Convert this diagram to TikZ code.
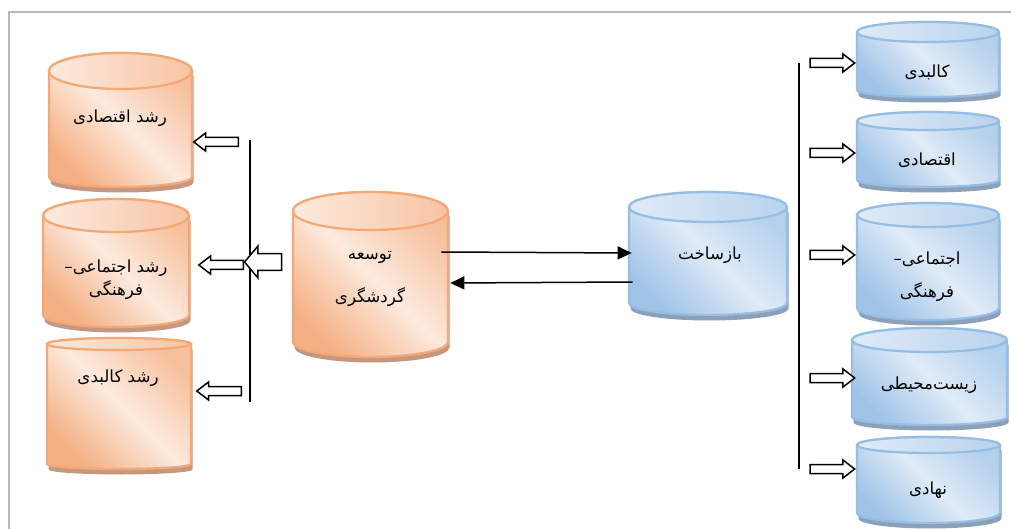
\documentclass[tikz,border=0pt]{standalone}
\usepackage{fontspec}
\usetikzlibrary{shapes.arrows, shadows, arrows.meta, fit}
\newfontfamily\arabicfont[Script=Arabic]{DejaVu Sans}
\TeXXeTstate=1
\newcommand\fa[1]{\beginR#1\endR}
\definecolor{orgedge}{RGB}{244,168,118}
\definecolor{orgdark}{RGB}{244,176,132}
\definecolor{orglight}{RGB}{253,234,222}
\definecolor{orgshade}{RGB}{196,152,128}
\definecolor{bluedge}{RGB}{150,190,228}
\definecolor{bludark}{RGB}{160,196,232}
\definecolor{blulight}{RGB}{224,235,247}
\definecolor{blushade}{RGB}{140,160,184}
\definecolor{framegray}{RGB}{184,184,188}

\begin{document}
\begin{tikzpicture}[x=0.2mm, y=-0.2mm, >={Triangle[length=2.8mm,width=2.6mm]},
    orangebody/.style={draw=orgedge, line width=0.45mm, top color=orgdark!80, bottom color=orgdark,
      middle color=orglight, shading angle=-45,
      drop shadow={shadow xshift=0.3mm, shadow yshift=-1.1mm, fill=orgshade, opacity=1}},
    orangetop/.style={draw=orgedge, line width=0.45mm, left color=orglight, right color=orgdark!75},
    bluebody/.style={draw=bluedge, line width=0.45mm, top color=bludark!80, bottom color=bludark,
      middle color=blulight, shading angle=-45,
      drop shadow={shadow xshift=0.3mm, shadow yshift=-1.1mm, fill=blushade, opacity=1}},
    bluetop/.style={draw=bluedge, line width=0.45mm, left color=blulight, right color=bludark!75},
    lbl/.style={font=\arabicfont\fontsize{9.5}{13}\selectfont, align=center, inner sep=1pt},
    hollow/.style={single arrow, draw, line width=0.3mm, fill=white, inner xsep=0pt, inner ysep=0.75mm,
      single arrow head extend=0.9mm, single arrow tip angle=75, minimum height=8.9mm}]
  \useasboundingbox (0,0) rectangle (1011,529);
  % frame
  \draw[framegray, line width=0.5mm] (1011,12) -- (9,12) -- (9,529);
  % cylinders: name/left/right/top centre/bottom centre/top radius/bottom radius/look
  \foreach \nm/\xa/\xb/\ya/\yb/\ra/\rb/\c in {g1/49/192/71/177/18/10/orange, g2/43/189/215.5/315/16.5/12/orange,
      g3/47/191/344/464/6/5/orange, tour/293/448/211/342/19/15/orange, base/629/787/207/303/15/12/blue,
      s1/857/999/32/90/10/7/blue, s2/857/999/121/180/9/7/blue, s3/857/999/215/308/12/12/blue,
      s4/852/1007/340/417/12/8/blue, s5/857/1000/445/513/8/10/blue} {
    \pgfmathsetmacro\rx{(\xb-\xa)/2}
    \path[\c body] (\xa,\ya) -- (\xa,\yb) arc[start angle=180, end angle=0, x radius=\rx, y radius=\rb]
      -- (\xb,\ya) arc[start angle=0, end angle=-180, x radius=\rx, y radius=\ra] -- cycle;
    \path[\c top] (\xa+\rx,\ya) ellipse[x radius=\rx, y radius=\ra];
    \node[fit={(\xa,\ya) (\xb,\yb)}, inner sep=0pt] (\nm) {};
  }
  % labels
  \node[lbl] (g1t) at (120,118) {\fa{رشد اقتصادی}};
  \node[lbl] (g2t) at (116,280) {\fa{رشد اجتماعی–}\\ \fa{فرهنگی}};
  \node[lbl] (g3t) at (118,378) {\fa{رشد کالبدی}};
  \node[lbl] (tourt) at (370,279) {\fa{توسعه}\\[11pt] \fa{گردشگری}};
  \node[lbl] (baset) at (710,255) {\fa{بازساخت}};
  \node[lbl] (s1t) at (927,72) {\fa{کالبدی}};
  \node[lbl] (s2t) at (927,160) {\fa{اقتصادی}};
  \node[lbl] (s3t) at (927,277) {\fa{اجتماعی–}\\[5.8pt] \fa{فرهنگی}};
  \node[lbl] (s4t) at (929,385) {\fa{زیست^^^^200cمحیطی}};
  \node[lbl] (s5t) at (928,490) {\fa{نهادی}};
  % bars
  \coordinate (gbarT) at (250,140);
  \coordinate (gbarB) at (250,402);
  \coordinate (sbarT) at (799,63);
  \coordinate (sbarB) at (799,469);
  \draw[line width=0.25mm] (gbarT) -- (gbarB);
  \draw[line width=0.25mm] (sbarT) -- (sbarB);
  % hollow arrows
  \node[hollow, inner ysep=1.5mm, single arrow head extend=1.5mm, single arrow tip angle=100,
    minimum height=7.4mm, shape border rotate=180] (ta) at (266.5,262) {};
  \foreach \nm/\x/\y in {ga1/219/142, ga2/224/265, ga3/222/391}
    \node[hollow, shape border rotate=180] (\nm) at (\x,\y) {};
  \foreach \nm/\y in {sa1/63, sa2/153, sa3/255, sa4/378, sa5/469}
    \node[hollow] (\nm) at (829.5,\y) {};
  % links between the two centres
  \draw[->, line width=0.3mm] ([xshift=-1.4mm, yshift=4.9mm]tour.east) -- ([xshift=0.6mm, yshift=0.4mm]base.west);
  \draw[->, line width=0.3mm] ([xshift=0.8mm, yshift=-5.4mm]base.west) -- ([xshift=0.4mm, yshift=-1.3mm]tour.east);
\end{tikzpicture}
\end{document}
